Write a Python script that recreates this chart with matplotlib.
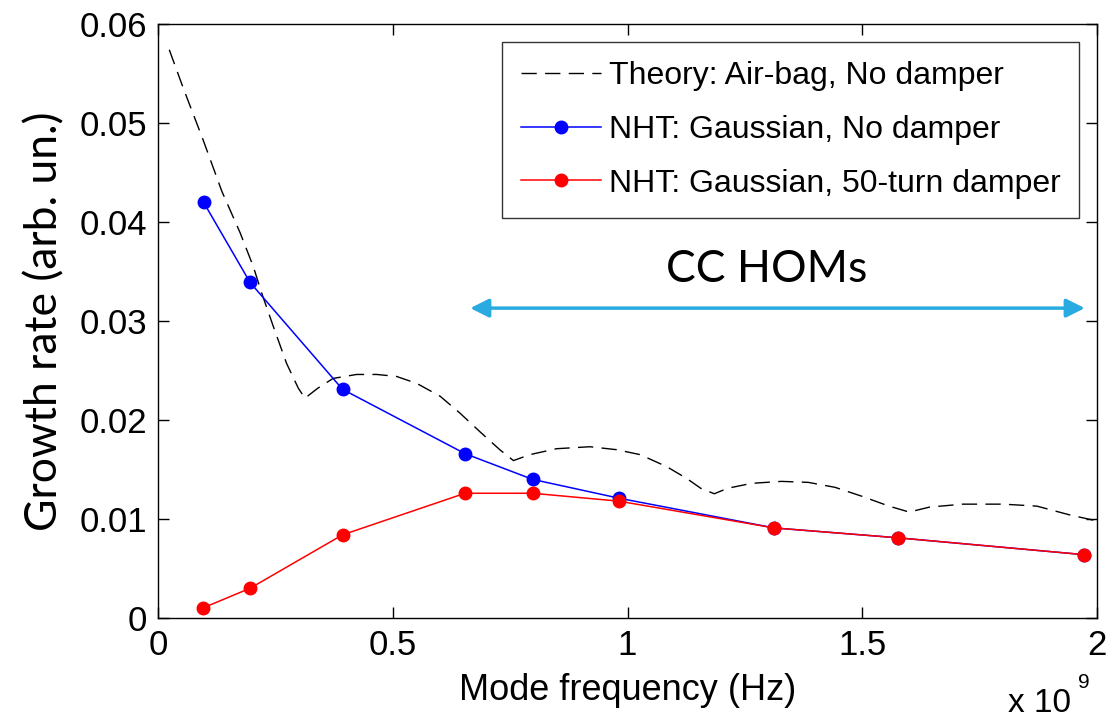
import matplotlib
matplotlib.use("Agg")
import matplotlib.pyplot as plt

# frequencies in units of 1e9 Hz
theory_f = [0.024, 0.054, 0.096, 0.136, 0.175, 0.203, 0.221, 0.246, 0.274, 0.299,
            0.313, 0.340, 0.373, 0.423, 0.466, 0.508, 0.551, 0.601, 0.643, 0.686,
            0.728, 0.757, 0.792, 0.849, 0.920, 0.977, 1.027, 1.083, 1.126, 1.156,
            1.185, 1.213, 1.264, 1.328, 1.385, 1.442, 1.499, 1.557, 1.600, 1.643,
            1.714, 1.800, 1.872, 1.943, 2.000]
theory_g = [0.0574, 0.0535, 0.0483, 0.0431, 0.0389, 0.0355, 0.0328, 0.0294, 0.0257, 0.0232,
            0.0222, 0.0232, 0.0242, 0.0246, 0.0246, 0.0244, 0.0237, 0.0224, 0.0207, 0.0188,
            0.0170, 0.0159, 0.0165, 0.0171, 0.0173, 0.0170, 0.0165, 0.0153, 0.0141, 0.0131,
            0.01255, 0.0131, 0.0136, 0.0138, 0.0137, 0.0132, 0.0123, 0.0113, 0.0107, 0.0112,
            0.0115, 0.0115, 0.0113, 0.0104, 0.0098]

nodamp_f = [0.097, 0.196, 0.393, 0.654, 0.798, 0.982, 1.312, 1.576, 1.972]
nodamp_g = [0.0420, 0.0339, 0.0231, 0.0166, 0.0140, 0.0121, 0.0091, 0.0081, 0.0064]

damp_f = [0.095, 0.196, 0.393, 0.654, 0.798, 0.982, 1.312, 1.576, 1.972]
damp_g = [0.0010, 0.0030, 0.0084, 0.0126, 0.0126, 0.0118, 0.0091, 0.0081, 0.0064]

hom_range = [0.665, 1.974]

plt.rcParams['font.family'] = ['Liberation Sans', 'DejaVu Sans']

fig = plt.figure(figsize=(11.13, 7.18), dpi=100)
ax = fig.add_axes([158 / 1113, 100 / 718, 939 / 1113, 594 / 718])

ax.plot(theory_f, theory_g, color='black', lw=1.0, dashes=[11, 6],
        label='Theory: Air-bag, No damper')
ax.plot(nodamp_f, nodamp_g, '-o', color='blue', lw=1.1, markersize=9,
        label='NHT: Gaussian, No damper')
ax.plot(damp_f, damp_g, '-o', color='red', lw=1.1, markersize=9,
        label='NHT: Gaussian, 50-turn damper')

# CC HOM band arrow
ax.annotate('', xy=(hom_range[1], 0.0313), xytext=(hom_range[0], 0.0313),
            arrowprops=dict(arrowstyle='<|-|>', color='#29abe2', lw=2.5,
                            mutation_scale=28, shrinkA=0, shrinkB=0))
ax.text(1.297, 0.0352, 'CC HOMs', fontsize=32, ha='center', va='center',
        family=['Lato', 'DejaVu Sans'])

ax.set_xlim(0, 2)
ax.set_ylim(0, 0.06)
ax.set_xticks([0, 0.5, 1, 1.5, 2])
ax.set_xticklabels(['0', '0.5', '1', '1.5', '2'])
ax.set_yticks([0, 0.01, 0.02, 0.03, 0.04, 0.05, 0.06])
ax.set_yticklabels(['0', '0.01', '0.02', '0.03', '0.04', '0.05', '0.06'])
ax.tick_params(direction='in', length=8, width=1, top=True, right=True,
               labelsize=25, pad=8)
for s in ax.spines.values():
    s.set_linewidth(1.0)

ax.set_xlabel('Mode frequency (Hz)', fontsize=26, labelpad=8)
ax.set_ylabel('Growth rate (arb. un.)', fontsize=32, labelpad=10,
              family=['Lato', 'DejaVu Sans'])
fig.text(1008 / 1113, 1 - 704 / 718, 'x 10', fontsize=24, ha='left', va='center')
fig.text(1078 / 1113, 1 - 683 / 718, '9', fontsize=15, ha='left', va='center')

leg = ax.legend(loc='upper right', fontsize=23, frameon=True, fancybox=False,
                edgecolor='black', handlelength=2.5, borderaxespad=0.55,
                labelspacing=0.75, handletextpad=0.25, borderpad=0.6)
leg.get_frame().set_linewidth(1.0)

fig.savefig('out.png', dpi=100)
